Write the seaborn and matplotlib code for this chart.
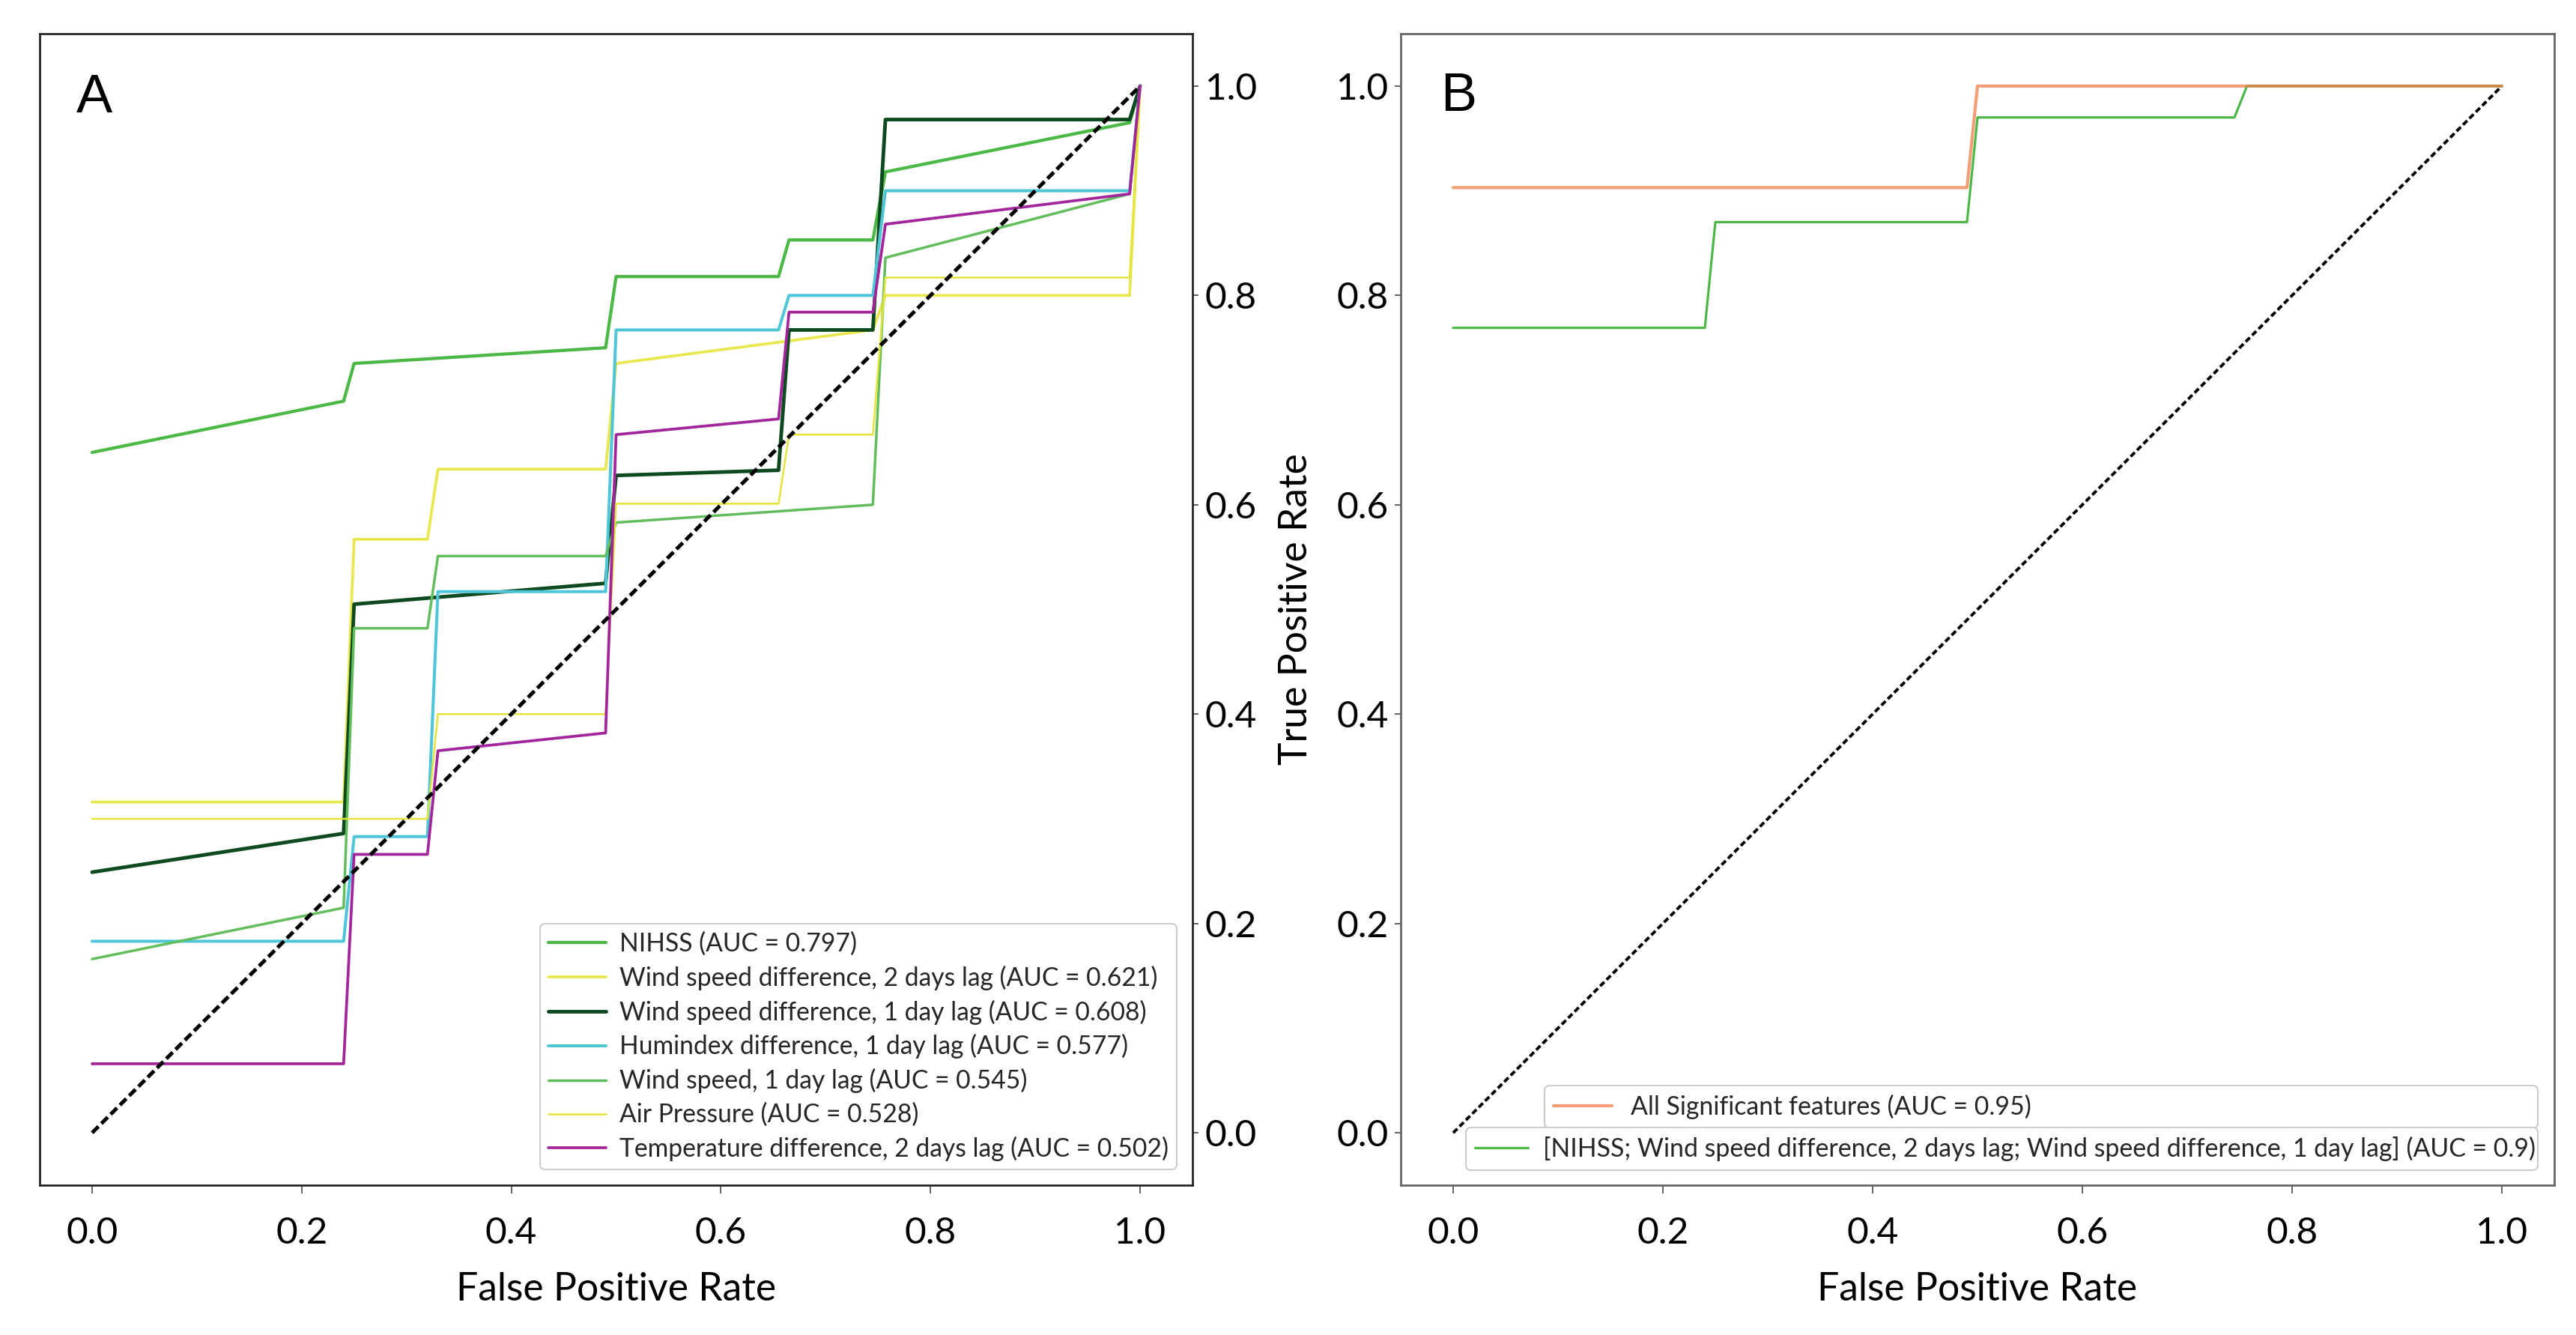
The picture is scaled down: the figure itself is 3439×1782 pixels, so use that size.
import matplotlib
matplotlib.use("Agg")
import matplotlib.pyplot as plt
import seaborn as sns

# ---------------- data ----------------
# Panel A
nihss_fpr = [0, 0.24, 0.25, 0.49, 0.50, 0.655, 0.665, 0.745, 0.757, 0.99, 1.0]
nihss_tpr = [0.650, 0.699, 0.735, 0.750, 0.818, 0.818, 0.853, 0.853, 0.918, 0.965, 1.0]

wsd2_fpr = [0, 0.24, 0.25, 0.32, 0.33, 0.49, 0.50, 0.745, 0.757, 0.99, 1.0]
wsd2_tpr = [0.316, 0.316, 0.567, 0.567, 0.634, 0.634, 0.735, 0.767, 0.800, 0.800, 1.0]

wsd1_fpr = [0, 0.24, 0.25, 0.49, 0.50, 0.655, 0.665, 0.745, 0.757, 0.99, 1.0]
wsd1_tpr = [0.249, 0.286, 0.505, 0.525, 0.628, 0.633, 0.767, 0.767, 0.968, 0.968, 1.0]

humi_fpr = [0, 0.24, 0.25, 0.32, 0.33, 0.49, 0.50, 0.655, 0.665, 0.745, 0.757, 0.99, 1.0]
humi_tpr = [0.183, 0.183, 0.283, 0.283, 0.517, 0.517, 0.767, 0.767, 0.800, 0.800, 0.900, 0.900, 1.0]

ws1_fpr = [0, 0.24, 0.25, 0.32, 0.33, 0.49, 0.50, 0.745, 0.757, 0.99, 1.0]
ws1_tpr = [0.166, 0.215, 0.482, 0.482, 0.551, 0.551, 0.583, 0.600, 0.836, 0.897, 1.0]

air_fpr = [0, 0.32, 0.33, 0.49, 0.50, 0.655, 0.665, 0.745, 0.757, 0.99, 1.0]
air_tpr = [0.300, 0.300, 0.400, 0.400, 0.601, 0.601, 0.667, 0.667, 0.817, 0.817, 1.0]

temp_fpr = [0, 0.24, 0.25, 0.32, 0.33, 0.49, 0.50, 0.655, 0.665, 0.745, 0.757, 0.99, 1.0]
temp_tpr = [0.066, 0.066, 0.266, 0.266, 0.365, 0.382, 0.667, 0.682, 0.784, 0.784, 0.868, 0.897, 1.0]

labels_a = [
    "NIHSS (AUC = 0.797)",
    "Wind speed difference, 2 days lag (AUC = 0.621)",
    "Wind speed difference, 1 day lag (AUC = 0.608)",
    "Humindex difference, 1 day lag (AUC = 0.577)",
    "Wind speed, 1 day lag (AUC = 0.545)",
    "Air Pressure (AUC = 0.528)",
    "Temperature difference, 2 days lag (AUC = 0.502)",
]

# Panel B
allsig_fpr = [0, 0.49, 0.50, 1.0]
allsig_tpr = [0.903, 0.903, 1.0, 1.0]

combo_fpr = [0, 0.24, 0.25, 0.49, 0.50, 0.745, 0.757, 1.0]
combo_tpr = [0.769, 0.769, 0.870, 0.870, 0.970, 0.970, 1.0, 1.0]

labels_b = [
    "All Significant features (AUC = 0.95)",
    "[NIHSS; Wind speed difference, 2 days lag; Wind speed difference, 1 day lag] (AUC = 0.9)",
]

chance_x = [0, 1]
chance_y = [0, 1]

tick_vals = [0.0, 0.2, 0.4, 0.6, 0.8, 1.0]
tick_labels = ["0.0", "0.2", "0.4", "0.6", "0.8", "1.0"]

# ---------------- style ----------------
sns.set_theme(style="white")
FONT = ["Lato", "DejaVu Sans"]
plt.rcParams["font.family"] = FONT

W, H = 3439, 1782
fig = plt.figure(figsize=(W / 100, H / 100), dpi=100)
fig.patch.set_facecolor("white")
renderer = fig.canvas.get_renderer()


def fit_size(text, target_px, family=FONT, ref=20.0):
    t = fig.text(0, 0, text, fontsize=ref, family=family)
    w = t.get_window_extent(renderer).width
    t.remove()
    return ref * target_px / w


tick_fs = fit_size("0.0", 69)
label_fs = fit_size("False Positive Rate", 428)
leg_a_fs = fit_size(labels_a[6], 733)
leg_b_fs = fit_size(labels_b[1], 1327)

ax_a = fig.add_axes([53 / W, 1 - 1582 / H, 1539 / W, 1537 / H])
ax_b = fig.add_axes([1870 / W, 1 - 1582 / H, 1540 / W, 1537 / H])

colors_a = ["#4cb947", "#e8e84e", "#0d4a1f", "#4ec6d8", "#62bd5c", "#e4e43a", "#a3259c"]
widths_a = [3.1, 2.7, 3.5, 2.9, 2.5, 1.8, 2.7]
series_a = [
    (nihss_fpr, nihss_tpr), (wsd2_fpr, wsd2_tpr), (wsd1_fpr, wsd1_tpr),
    (humi_fpr, humi_tpr), (ws1_fpr, ws1_tpr), (air_fpr, air_tpr), (temp_fpr, temp_tpr),
]

for (fx, ty), lab, col, lw in zip(series_a, labels_a, colors_a, widths_a):
    sns.lineplot(x=fx, y=ty, ax=ax_a, color=col, linewidth=lw, label=lab,
                 sort=False, estimator=None)
sns.lineplot(x=chance_x, y=chance_y, ax=ax_a, color="black", linewidth=3.6,
             linestyle=(0, (2.4, 1.1)), sort=False, estimator=None, zorder=5)

sns.lineplot(x=combo_fpr, y=combo_tpr, ax=ax_b, color="#4db848", linewidth=2.3,
             label=labels_b[1], sort=False, estimator=None)
sns.lineplot(x=allsig_fpr, y=allsig_tpr, ax=ax_b, color="#ee7d45", linewidth=3.0,
             alpha=0.75, label=labels_b[0], sort=False, estimator=None)
sns.lineplot(x=chance_x, y=chance_y, ax=ax_b, color="black", linewidth=2.8,
             linestyle=(0, (2.0, 1.1)), sort=False, estimator=None, zorder=1)

for ax, spine_col in ((ax_a, "#262626"), (ax_b, "#666666")):
    ax.set_facecolor("white")
    ax.set_xlim(-0.05, 1.05)
    ax.set_ylim(-0.05, 1.05)
    ax.set_xticks(tick_vals)
    ax.set_xticklabels(tick_labels)
    ax.set_yticks(tick_vals)
    ax.set_yticklabels(tick_labels)
    for s in ax.spines.values():
        s.set_visible(True)
        s.set_color(spine_col)
        s.set_linewidth(2.0)
    ax.tick_params(axis="x", which="major", bottom=True, length=8, width=1.3,
                   color="#555555", pad=22, labelsize=tick_fs, labelcolor="black")
    ax.tick_params(axis="y", which="major", length=6, width=1.3,
                   color="#555555", pad=6, labelsize=tick_fs, labelcolor="black")
    ax.set_xlabel("False Positive Rate", fontsize=label_fs, labelpad=22, color="black")

ax_a.yaxis.tick_right()
ax_a.tick_params(axis="y", right=True, left=False)
ax_a.set_ylabel("")
ax_b.tick_params(axis="y", left=True, right=False)
ax_b.set_ylabel("True Positive Rate", fontsize=label_fs, labelpad=22, color="black")

# panel letters
ax_a.text(0.0318, 0.9317, "A", transform=ax_a.transAxes, fontsize=52,
          family=["Liberation Sans", "DejaVu Sans"], ha="left", va="baseline", color="black")
ax_b.text(0.0344, 0.933, "B", transform=ax_b.transAxes, fontsize=52,
          family=["Liberation Sans", "DejaVu Sans"], ha="left", va="baseline", color="black")

# legend A
h_a, l_a = ax_a.get_legend_handles_labels()
leg_a = ax_a.legend(h_a[:7], l_a[:7], loc="lower right",
                    bbox_to_anchor=((1571 - 53) / 1539, (1582 - 1561) / 1537),
                    borderaxespad=0, fontsize=leg_a_fs, frameon=True, fancybox=True,
                    framealpha=1, edgecolor="#cccccc", facecolor="white",
                    handlelength=2.3, handletextpad=0.55, labelspacing=0.38,
                    borderpad=0.32)
leg_a.get_frame().set_linewidth(1.5)

# legend B (two stacked boxes, as in the original)
h_b, l_b = ax_b.get_legend_handles_labels()
hmap = dict(zip(l_b, h_b))
x1 = (3388 - 1870) / 1540
top1 = (1582 - 1449) / 1537
x0_1 = (2062 - 1870) / 1540
leg_b1 = ax_b.legend([hmap[labels_b[0]]], [labels_b[0]], loc="upper left",
                     bbox_to_anchor=(x0_1, 0.0, x1 - x0_1, top1), mode="expand",
                     borderaxespad=0, fontsize=leg_b_fs, frameon=True, fancybox=True,
                     framealpha=1, edgecolor="#cccccc", facecolor="white",
                     handlelength=2.3, handletextpad=0.75, borderpad=0.35)
leg_b1.get_frame().set_linewidth(1.5)
ax_b.add_artist(leg_b1)
top2 = (1582 - 1505) / 1537
x0_2 = (1957 - 1870) / 1540
leg_b2 = ax_b.legend([hmap[labels_b[1]]], [labels_b[1]], loc="upper left",
                     bbox_to_anchor=(x0_2, 0.0, x1 - x0_2, top2), mode="expand",
                     borderaxespad=0, fontsize=leg_b_fs, frameon=True, fancybox=True,
                     framealpha=1, edgecolor="#cccccc", facecolor="white",
                     handlelength=2.1, handletextpad=0.6, borderpad=0.35)
leg_b2.get_frame().set_linewidth(1.5)

fig.savefig("out.png", dpi=100, facecolor="white")
